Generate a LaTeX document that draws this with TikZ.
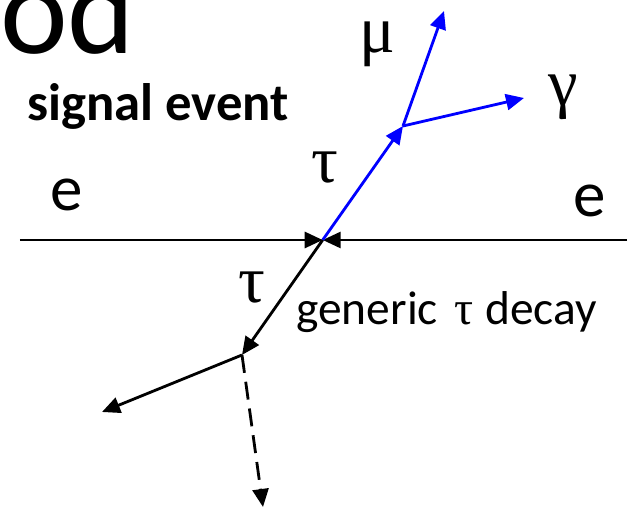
\documentclass[tikz,border=0pt]{standalone}
\usepackage{fontspec}
\setmainfont{Carlito}
\newfontfamily\greek{Liberation Serif}
\usetikzlibrary{arrows.meta}
\definecolor{Ink}{HTML}{000000}
\definecolor{Sig}{HTML}{0000FF}

\begin{document}
\begin{tikzpicture}[>={Triangle[length=0.36cm,width=0.32cm]},
  lab/.style={inner sep=0pt,font=\fontsize{37}{42}\selectfont},
  glab/.style={inner sep=0pt,font=\fontsize{38}{42}\selectfont\greek},
  track/.style={->,line width=1.6pt,draw=Ink},
  sigtrack/.style={track,draw=Sig,fill=Sig}]
 \path[use as bounding box,clip] (0,0) rectangle (12.66,10.22);
 % vertices
 \coordinate (l) at (0.40,5.42);
 \coordinate (r) at (12.54,5.42);
 \coordinate (v) at (6.454,5.42);
 \coordinate (k) at (8.06,7.70);
 \coordinate (mu) at (8.88,10.00);
 \coordinate (ga) at (10.48,8.26);
 \coordinate (d) at (4.84,3.12);
 \coordinate (p) at (2.04,1.98);
 \coordinate (nu) at (5.26,0.08);
 % texts
 \node[inner sep=0pt,anchor=base west,font=\fontsize{73}{80}\selectfont] (title) at (0.0,9.14) {od};
 \node[inner sep=0pt,anchor=base west,font=\fontsize{30}{34}\selectfont\bfseries] (sig) at (0.54,7.80) {signal event};
 \node[lab,anchor=base] (el) at (1.34,6.0) {e};
 \node[lab,anchor=base] (er) at (11.80,5.88) {e};
 \node[glab,anchor=base] (tauu) at (6.50,6.56) {τ};
 \node[glab,anchor=base] (taud) at (5.03,4.16) {τ};
 \node[glab,anchor=base] (mul) at (7.54,9.16) {μ};
 \node[glab,anchor=base] (gal) at (11.26,8.10) {γ};
 \node[inner sep=0pt,anchor=base west,font=\fontsize{27}{31}\selectfont] (gen) at (5.92,3.72) {generic\hspace{0.35em}{\greek τ}\hspace{0.25em}decay};
 % tracks
 \draw[track] (l)--(v);
 \draw[track] (r)--(v);
 \draw[sigtrack] (v)--(k);
 \draw[sigtrack] (k)--(mu);
 \draw[sigtrack] (k)--(ga);
 \draw[track] (v)--(d);
 \draw[track] (d)--(p);
 \draw[track,dash pattern=on 0.36cm off 0.18cm] (d)--(nu);
\end{tikzpicture}
\end{document}
